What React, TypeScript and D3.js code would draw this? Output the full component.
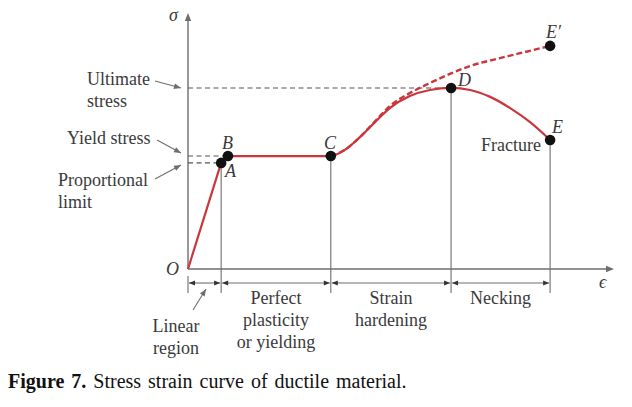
import React from "react";
import * as d3 from "d3";

// Strain (x) and stress (y) in arbitrary chart units
const linearStrain = [0, 7.8];
const linearStress = [0, 41.6];
const solidStrain = [7.8, 8.6, 9.4, 33.6, 36.9, 40.5, 44.0, 47.5, 52.2, 56.9, 61.9, 66.4, 71.1, 75.8, 80.5, 85.2];
const solidStress = [41.6, 43.4, 44.3, 44.3, 46.7, 51.8, 57.6, 63.1, 67.8, 70.2, 71.0, 70.2, 67.5, 63.1, 57.6, 50.6];
const dashStrain = [33.6, 36.9, 40.5, 44.0, 47.5, 52.2, 56.9, 61.6, 66.4, 73.4, 79.3, 85.2];
const dashStress = [44.3, 46.7, 51.8, 57.9, 63.9, 69.0, 72.9, 76.5, 79.6, 82.7, 85.1, 87.5];

const pointNames = ["A", "B", "C", "D", "E", "E′"];
const pointStrain = [7.8, 9.4, 33.6, 61.9, 85.2, 85.2];
const pointStress = [41.6, 44.3, 44.3, 71.0, 50.6, 87.5];

const regionBounds = [0, 7.8, 33.6, 61.9, 85.2];
const regionLabels = [[], ["Perfect", "plasticity", "or yielding"], ["Strain", "hardening"], ["Necking"]];

const W = 632;
const H = 407;

export default function App() {
  const x = d3.scaleLinear().domain([0, 100]).range([188, 613]);
  const y = d3.scaleLinear().domain([0, 100]).range([269, 14]);
  const red = "#c9363c";
  const gray = "#6e6e6e";
  const txt = "#3a3a3a";
  const serif = "'Times New Roman', 'Liberation Serif', Times, 'DejaVu Serif', serif";

  const lin = linearStrain.map((s, i) => [s, linearStress[i]] as [number, number]);
  const solid = solidStrain.map((s, i) => [s, solidStress[i]] as [number, number]);
  const dash = dashStrain.map((s, i) => [s, dashStress[i]] as [number, number]);
  const line = d3.line<[number, number]>().x((d) => x(d[0])).y((d) => y(d[1])).curve(d3.curveMonotoneX);
  const straight = d3.line<[number, number]>().x((d) => x(d[0])).y((d) => y(d[1]));

  const dimY = 283;
  const tickBottom = 293;
  const pts = pointNames.map((n, i) => ({ n, px: x(pointStrain[i]), py: y(pointStress[i]) }));
  const P = (n: string) => pts.find((p) => p.n === n)!;

  const arrowHead = (x1: number, y1: number, x2: number, y2: number, size = 6, half = 2.6) => {
    const a = Math.atan2(y2 - y1, x2 - x1);
    const bx = x2 - size * Math.cos(a);
    const by = y2 - size * Math.sin(a);
    const nx = -Math.sin(a) * half;
    const ny = Math.cos(a) * half;
    return `M${x2},${y2}L${bx + nx},${by + ny}L${bx - nx},${by - ny}Z`;
  };

  const annot = (x1: number, y1: number, x2: number, y2: number, key: string) => (
    <g key={key}>
      <line x1={x1} y1={y1} x2={x2} y2={y2} stroke={gray} strokeWidth={1.1} />
      <path d={arrowHead(x1, y1, x2, y2, 7, 2.8)} fill={gray} />
    </g>
  );

  const x0 = x(0);
  const y0 = y(0);
  const yUlt = y(pointStress[3]);
  const yYield = y(pointStress[1]);
  const yProp = y(pointStress[0]);

  return (
    <svg width={W} height={H} style={{ position: "absolute", left: 0, top: 0, background: "#fff" }}>
      {/* axes */}
      <line x1={x0} y1={y0} x2={x0} y2={16} stroke={gray} strokeWidth={1.4} />
      <path d={arrowHead(x0, 40, x0, 13, 8, 3.2)} fill={gray} />
      <line x1={x0} y1={y0} x2={610} y2={y0} stroke={gray} strokeWidth={1.4} />
      <path d={arrowHead(580, y0, 614, y0, 8, 3.2)} fill={gray} />

      {/* dashed reference lines */}
      <line x1={x0} y1={yUlt} x2={P("D").px} y2={yUlt} stroke="#555" strokeWidth={1.1} strokeDasharray="5,3.5" />
      <line x1={x0} y1={yYield} x2={P("B").px} y2={yYield} stroke="#555" strokeWidth={1.1} strokeDasharray="5,3.5" />
      <line x1={x0} y1={yProp} x2={P("A").px} y2={yProp} stroke="#555" strokeWidth={1.1} strokeDasharray="5,3.5" />

      {/* vertical guides */}
      <line x1={x0} y1={y0 + 7} x2={x0} y2={tickBottom} stroke={gray} strokeWidth={1.1} />
      {["A", "C", "D", "E"].map((n) => (
        <line key={n} x1={P(n).px} y1={P(n).py} x2={P(n).px} y2={tickBottom} stroke={gray} strokeWidth={1.1} />
      ))}

      {/* dimension arrows */}
      {regionBounds.slice(0, -1).map((b, i) => {
        const a1 = x(b) + 1;
        const a2 = x(regionBounds[i + 1]) - 1;
        return (
          <g key={"dim" + i}>
            <line x1={a1} y1={dimY} x2={a2} y2={dimY} stroke={gray} strokeWidth={1.1} />
            <path d={arrowHead(a1 + 10, dimY, a1, dimY, 6, 2.6)} fill="#333" />
            <path d={arrowHead(a2 - 10, dimY, a2, dimY, 6, 2.6)} fill="#333" />
          </g>
        );
      })}

      {/* curves */}
      <path d={line(dash)!} fill="none" stroke={red} strokeWidth={2.4} strokeDasharray="6,3" />
      <path d={straight(lin)!} fill="none" stroke={red} strokeWidth={2.2} />
      <path d={line(solid)!} fill="none" stroke={red} strokeWidth={2.2} />

      {/* points */}
      {pts.map((p) => (
        <circle key={p.n} cx={p.px} cy={p.py} r={5.3} fill="#111" />
      ))}

      {/* annotation arrows */}
      {annot(155, 81, 181, 88, "u")}
      {annot(157, 140, 181, 153, "y")}
      {annot(155, 179, 181, 165, "p")}
      {annot(193, 310, 206, 289, "l")}

      <g style={{ fontFamily: serif }} fill={txt} fontSize={18}>
        <text x={87} y={85}>Ultimate</text>
        <text x={87} y={107}>stress</text>
        <text x={67} y={144}>Yield stress</text>
        <text x={58} y={186}>Proportional</text>
        <text x={58} y={208}>limit</text>
        <text x={541} y={151} textAnchor="end">Fracture</text>
        <text x={176} y={332} textAnchor="middle">Linear</text>
        <text x={176} y={354} textAnchor="middle">region</text>
        {regionLabels.map((lines, i) =>
          lines.map((t, j) => (
            <text key={i + "-" + j} x={(x(regionBounds[i]) + x(regionBounds[i + 1])) / 2} y={304 + j * 22} textAnchor="middle">
              {t}
            </text>
          ))
        )}
      </g>

      <g style={{ fontFamily: serif }} fill={txt} fontSize={18} fontStyle="italic">
        <text x={169} y={21}>σ</text>
        <text x={166} y={275}>O</text>
        <text x={599} y={288}>ϵ</text>
        <text x={222} y={149}>B</text>
        <text x={225} y={177}>A</text>
        <text x={324} y={149}>C</text>
        <text x={458} y={86}>D</text>
        <text x={552} y={133}>E</text>
        <text x={546} y={38}>E′</text>
      </g>

      <text x={8} y={388} style={{ fontFamily: serif }} fontSize={20} fill="#111" wordSpacing={2}>
        <tspan fontWeight="bold">Figure 7.</tspan>
        <tspan> Stress strain curve of ductile material.</tspan>
      </text>
    </svg>
  );
}
